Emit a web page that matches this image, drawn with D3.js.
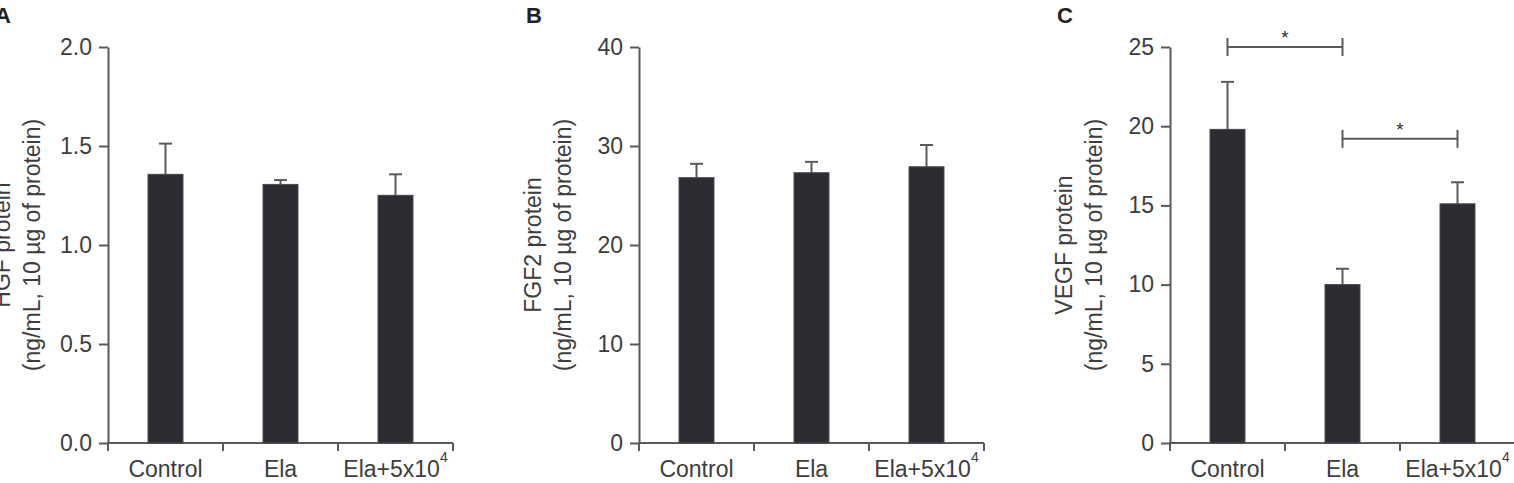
<!DOCTYPE html>
<html><head><meta charset="utf-8">
<script src="https://cdn.jsdelivr.net/npm/d3@7"></script>
<style>body{margin:0;background:#fff}svg{display:block}</style>
</head><body><svg id="chart" width="1514" height="483"></svg>
<script>
const categories = ["Control", "Ela", "Ela+5x10^4"];
const hgfMeans = [1.357, 1.306, 1.251];
const hgfErrors = [0.155, 0.022, 0.106];
const fgf2Means = [26.8, 27.3, 27.9];
const fgf2Errors = [1.4, 1.1, 2.2];
const vegfMeans = [19.8, 10.0, 15.1];
const vegfErrors = [3.0, 1.0, 1.36];
const hgfTicks = [0, 0.5, 1.0, 1.5, 2.0];
const fgf2Ticks = [0, 10, 20, 30, 40];
const vegfTicks = [0, 5, 10, 15, 20, 25];
const vegfBrackets = [{from: 0, to: 1, level: 25, label: "*"}, {from: 1, to: 2, level: 19.2, label: "*"}];

const panels = [
  {letter: "A", title: "HGF protein", means: hgfMeans, errors: hgfErrors, ticks: hgfTicks, fmt: d3.format(".1f"), brackets: [], left: 108},
  {letter: "B", title: "FGF2 protein", means: fgf2Means, errors: fgf2Errors, ticks: fgf2Ticks, fmt: d3.format("d"), brackets: [], left: 639},
  {letter: "C", title: "VEGF protein", means: vegfMeans, errors: vegfErrors, ticks: vegfTicks, fmt: d3.format("d"), brackets: vegfBrackets, left: 1170}
];

const svg = d3.select("#chart");
const plotTop = 47, plotBottom = 443, plotW = 345;
const FONT = "'Liberation Sans', Arial, Helvetica, sans-serif";
const textCol = "#3d3d3d", lineCol = "#5a5a5a", barCol = "#2c2d32";

panels.forEach(p => {
  const g = svg.append("g").attr("transform", `translate(${p.left},0)`);
  const y = d3.scaleLinear().domain([p.ticks[0], p.ticks[p.ticks.length - 1]]).range([plotBottom, plotTop]);
  const xb = d3.scaleBand().domain(categories).range([0, plotW]).padding(0);
  const xbar = d3.scaleBand().domain(categories).range([0, plotW]).paddingInner(0.696).paddingOuter(0.348);

  svg.append("text").attr("x", p.left - 113).attr("y", 23)
    .attr("font-family", FONT).attr("font-weight", "bold").attr("font-size", 22)
    .attr("fill", "#222").text(p.letter);

  const ya = g.append("g").call(d3.axisLeft(y).tickValues(p.ticks).tickFormat(p.fmt).tickSize(9).tickSizeOuter(0).tickPadding(7));
  ya.select(".domain").attr("stroke", lineCol).attr("stroke-width", 2);
  ya.selectAll(".tick line").attr("stroke", lineCol).attr("stroke-width", 2);
  ya.selectAll(".tick text").attr("font-family", FONT).attr("font-size", 23).attr("fill", textCol);

  g.append("line").attr("x1", -1).attr("x2", plotW).attr("y1", plotBottom).attr("y2", plotBottom)
    .attr("stroke", lineCol).attr("stroke-width", 2);
  const bounds = categories.map(c => xb(c)).concat([plotW]);
  g.selectAll(".xt").data(bounds).join("line")
    .attr("x1", d => d).attr("x2", d => d).attr("y1", plotBottom).attr("y2", plotBottom + 8)
    .attr("stroke", lineCol).attr("stroke-width", 2);

  categories.forEach(c => {
    const t = g.append("text").attr("x", xb(c) + xb.bandwidth() / 2).attr("y", 477)
      .attr("text-anchor", "middle").attr("font-family", FONT).attr("font-size", 23).attr("fill", textCol);
    if (c.includes("^")) {
      const [base, sup] = c.split("^");
      t.append("tspan").text(base);
      t.append("tspan").attr("dy", -15).attr("font-size", 14).text(sup);
    } else t.text(c);
  });

  const cx = i => xbar(categories[i]) + xbar.bandwidth() / 2;
  p.means.forEach((m, i) => {
    g.append("line").attr("x1", cx(i)).attr("x2", cx(i)).attr("y1", y(m)).attr("y2", y(m + p.errors[i]))
      .attr("stroke", lineCol).attr("stroke-width", 2);
    g.append("line").attr("x1", cx(i) - 6.5).attr("x2", cx(i) + 6.5).attr("y1", y(m + p.errors[i])).attr("y2", y(m + p.errors[i]))
      .attr("stroke", lineCol).attr("stroke-width", 2);
  });

  g.selectAll(".bar").data(p.means).join("rect")
    .attr("x", (d, i) => xbar(categories[i])).attr("width", xbar.bandwidth())
    .attr("y", d => y(d)).attr("height", d => y(p.ticks[0]) - y(d))
    .attr("fill", barCol).attr("stroke", "#47484c").attr("stroke-width", 1);

  p.brackets.forEach(b => {
    const x1 = cx(b.from), x2 = cx(b.to), yy = y(b.level);
    g.append("line").attr("x1", x1).attr("x2", x2).attr("y1", yy).attr("y2", yy).attr("stroke", lineCol).attr("stroke-width", 2);
    [x1, x2].forEach(xx => g.append("line").attr("x1", xx).attr("x2", xx).attr("y1", yy - 9).attr("y2", yy + 9).attr("stroke", lineCol).attr("stroke-width", 2));
    g.append("text").attr("x", (x1 + x2) / 2).attr("y", yy - 3).attr("text-anchor", "middle")
      .attr("font-family", FONT).attr("font-size", 19).attr("fill", "#2a2a2a").text(b.label);
  });

  const yc = (plotTop + plotBottom) / 2;
  const lab = g.append("text").attr("transform", `translate(-98,${yc}) rotate(-90)`)
    .attr("text-anchor", "middle").attr("font-family", FONT).attr("font-size", 23).attr("fill", textCol);
  lab.append("tspan").attr("x", 0).attr("y", 0).text(p.title);
  lab.append("tspan").attr("x", 0).attr("y", 30).text("(ng/mL, 10 µg of protein)");
});
</script></body></html>
